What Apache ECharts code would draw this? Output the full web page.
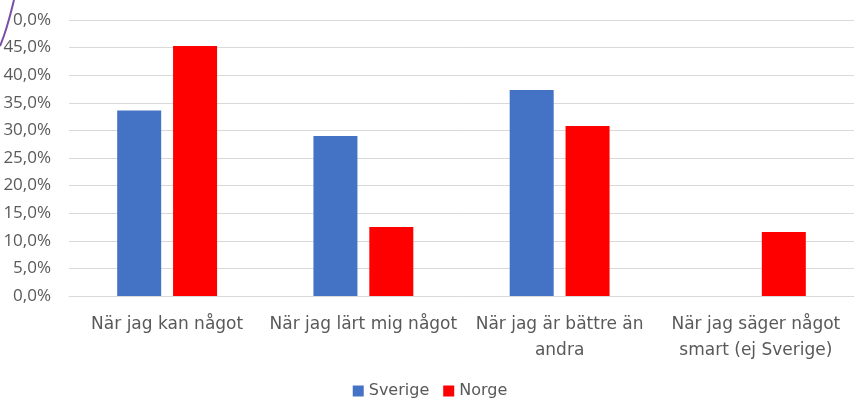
<!DOCTYPE html>
<html>
<head>
<meta charset="utf-8">
<script src="https://cdn.jsdelivr.net/npm/echarts@6/dist/echarts.min.js"></script>
<style>
  html, body { margin: 0; padding: 0; background: #fff; }
  #chart { width: 860px; height: 403px; }
</style>
</head>
<body>
<div id="chart"></div>
<script>
const categories = [
  'När jag kan något',
  'När jag lärt mig något',
  'När jag är bättre än\nandra',
  'När jag säger något\nsmart (ej Sverige)'
]
const sverige = [33.6, 29.0, 37.3, null]
const norge = [45.3, 12.5, 30.8, 11.6]
const yTicks = [0, 5, 10, 15, 20, 25, 30, 35, 40, 45, 50]

const wideFont = '"DejaVu Sans", sans-serif'
const numFont = '"Open Sans", sans-serif'
const grey = '#595959'

const chart = echarts.init(document.getElementById('chart'), null, { renderer: 'canvas' })

chart.setOption({
  animation: false,
  grid: { left: 69, right: 6, top: 20, bottom: 107, containLabel: false },
  legend: {
    bottom: -1,
    left: 'center',
    itemWidth: 11,
    itemHeight: 11,
    itemGap: 14,
    icon: 'rect',
    textStyle: { fontFamily: wideFont, fontSize: 16, color: grey, padding: [0, 0, 0, 0] },
    data: ['Sverige', 'Norge']
  },
  xAxis: {
    type: 'category',
    data: categories,
    axisTick: { show: false },
    axisLine: { lineStyle: { color: '#d9d9d9', width: 1 } },
    axisLabel: {
      interval: 0,
      margin: 16,
      fontFamily: wideFont,
      fontSize: 17,
      color: grey,
      lineHeight: 26
    }
  },
  yAxis: {
    type: 'value',
    min: yTicks[0],
    max: yTicks[yTicks.length - 1],
    interval: 5,
    axisLine: { show: false },
    axisTick: { show: false },
    splitLine: { lineStyle: { color: '#d9d9d9', width: 1 } },
    axisLabel: {
      margin: 18,
      fontFamily: numFont,
      fontSize: 17,
      color: grey,
      formatter: v => v.toFixed(1).replace('.', ',') + '%'
    }
  },
  series: [
    {
      name: 'Sverige',
      type: 'bar',
      data: sverige,
      itemStyle: { color: '#4472c4' },
      barWidth: 44,
      barGap: '27%'
    },
    {
      name: 'Norge',
      type: 'bar',
      data: norge,
      itemStyle: { color: '#ff0000' },
      barWidth: 44
    }
  ],
  graphic: [
    // the reference is cropped: something covers the "5" of the top label
    { type: 'rect', shape: { x: 0, y: 8, width: 12.5, height: 22 }, style: { fill: '#fff' }, z: 100 },
    {
      type: 'bezierCurve',
      shape: { x1: 0, y1: 46, x2: 14, y2: 0, cpx1: 7, cpy1: 30, cpx2: 11, cpy2: 12 },
      style: { stroke: '#7b4fa8', lineWidth: 2, fill: null },
      z: 101
    }
  ]
})
</script>
</body>
</html>
